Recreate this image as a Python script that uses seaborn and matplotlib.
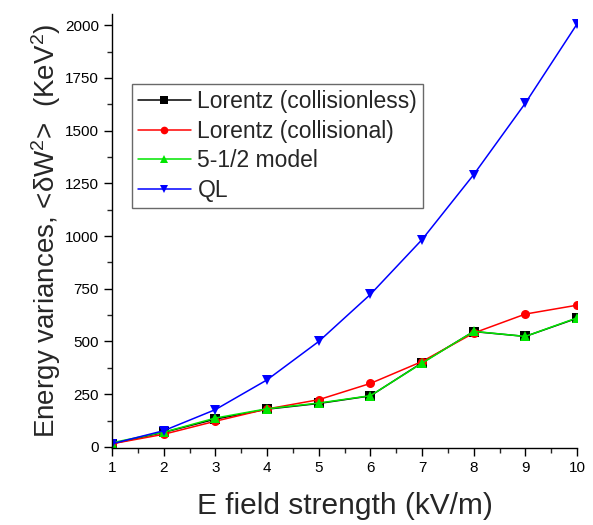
import matplotlib
matplotlib.use("Agg")
import matplotlib.pyplot as plt
import seaborn as sns
import pandas as pd
from matplotlib.ticker import MultipleLocator

sns.set_style("ticks")
plt.rcParams['font.family'] = ['Liberation Sans', 'DejaVu Sans']
plt.rcParams['mathtext.fontset'] = 'custom'
plt.rcParams['mathtext.rm'] = 'Liberation Sans'
plt.rcParams['mathtext.it'] = 'Liberation Sans:italic'

e_field = [1, 2, 3, 4, 5, 6, 7, 8, 9, 10]
lorentz_collisionless = [15, 69, 132, 179, 206, 242, 399, 547, 524, 610]
lorentz_collisional = [15, 60, 122, 180, 224, 301, 405, 540, 630, 672]
model_5half = [20, 70, 137, 181, 208, 243, 397, 548, 524, 612]
ql = [15, 77, 177, 318, 500, 723, 983, 1291, 1630, 2005]

names = ["Lorentz (collisionless)", "Lorentz (collisional)", "5-1/2 model", "QL"]
series = [lorentz_collisionless, lorentz_collisional, model_5half, ql]
colors = ["black", "#ff0000", "#00e600", "#0000ff"]
markers = ["s", "o", "^", "v"]

df = pd.DataFrame({
    "x": e_field * 4,
    "y": sum(series, []),
    "series": sum([[n] * len(e_field) for n in names], []),
})

fig = plt.figure(figsize=(5.93, 5.25), dpi=100)
ax = fig.add_axes([0.189, 0.1467, 0.784, 0.8263])

sns.lineplot(data=df, x="x", y="y", hue="series", style="series",
             hue_order=names, style_order=names,
             palette=dict(zip(names, colors)),
             markers=dict(zip(names, markers)), dashes=False,
             markersize=6.5, linewidth=1.1, markeredgewidth=0, ax=ax)

ax.set_xlim(1, 10)
ax.set_ylim(-5, 2052)
ax.xaxis.set_major_locator(MultipleLocator(1))
ax.xaxis.set_minor_locator(MultipleLocator(0.5))
ax.yaxis.set_major_locator(MultipleLocator(250))
ax.yaxis.set_minor_locator(MultipleLocator(125))
ax.tick_params(axis="both", which="major", direction="out", length=6, width=1, labelsize=11, colors="black")
ax.tick_params(axis="both", which="minor", direction="out", length=3.5, width=1)
for s in ["top", "right"]:
    ax.spines[s].set_visible(False)
for s in ["left", "bottom"]:
    ax.spines[s].set_color("black")
    ax.spines[s].set_linewidth(1)

ax.set_xlabel("E field strength (kV/m)", fontsize=21.5, labelpad=12)
ax.set_ylabel("Energy variances, <δW$^2$>  (KeV$^2$)", fontsize=20, labelpad=1)

leg = ax.legend(title=None, loc="upper left", bbox_to_anchor=(0.043, 0.839),
                fontsize=16.5, frameon=True, fancybox=False, handlelength=2.3,
                handletextpad=0.3, borderpad=0.25, labelspacing=0.3,
                borderaxespad=0, markerscale=0.85)
leg.get_frame().set_edgecolor("#444444")
leg.get_frame().set_linewidth(1)

fig.savefig("out.png", dpi=100)
